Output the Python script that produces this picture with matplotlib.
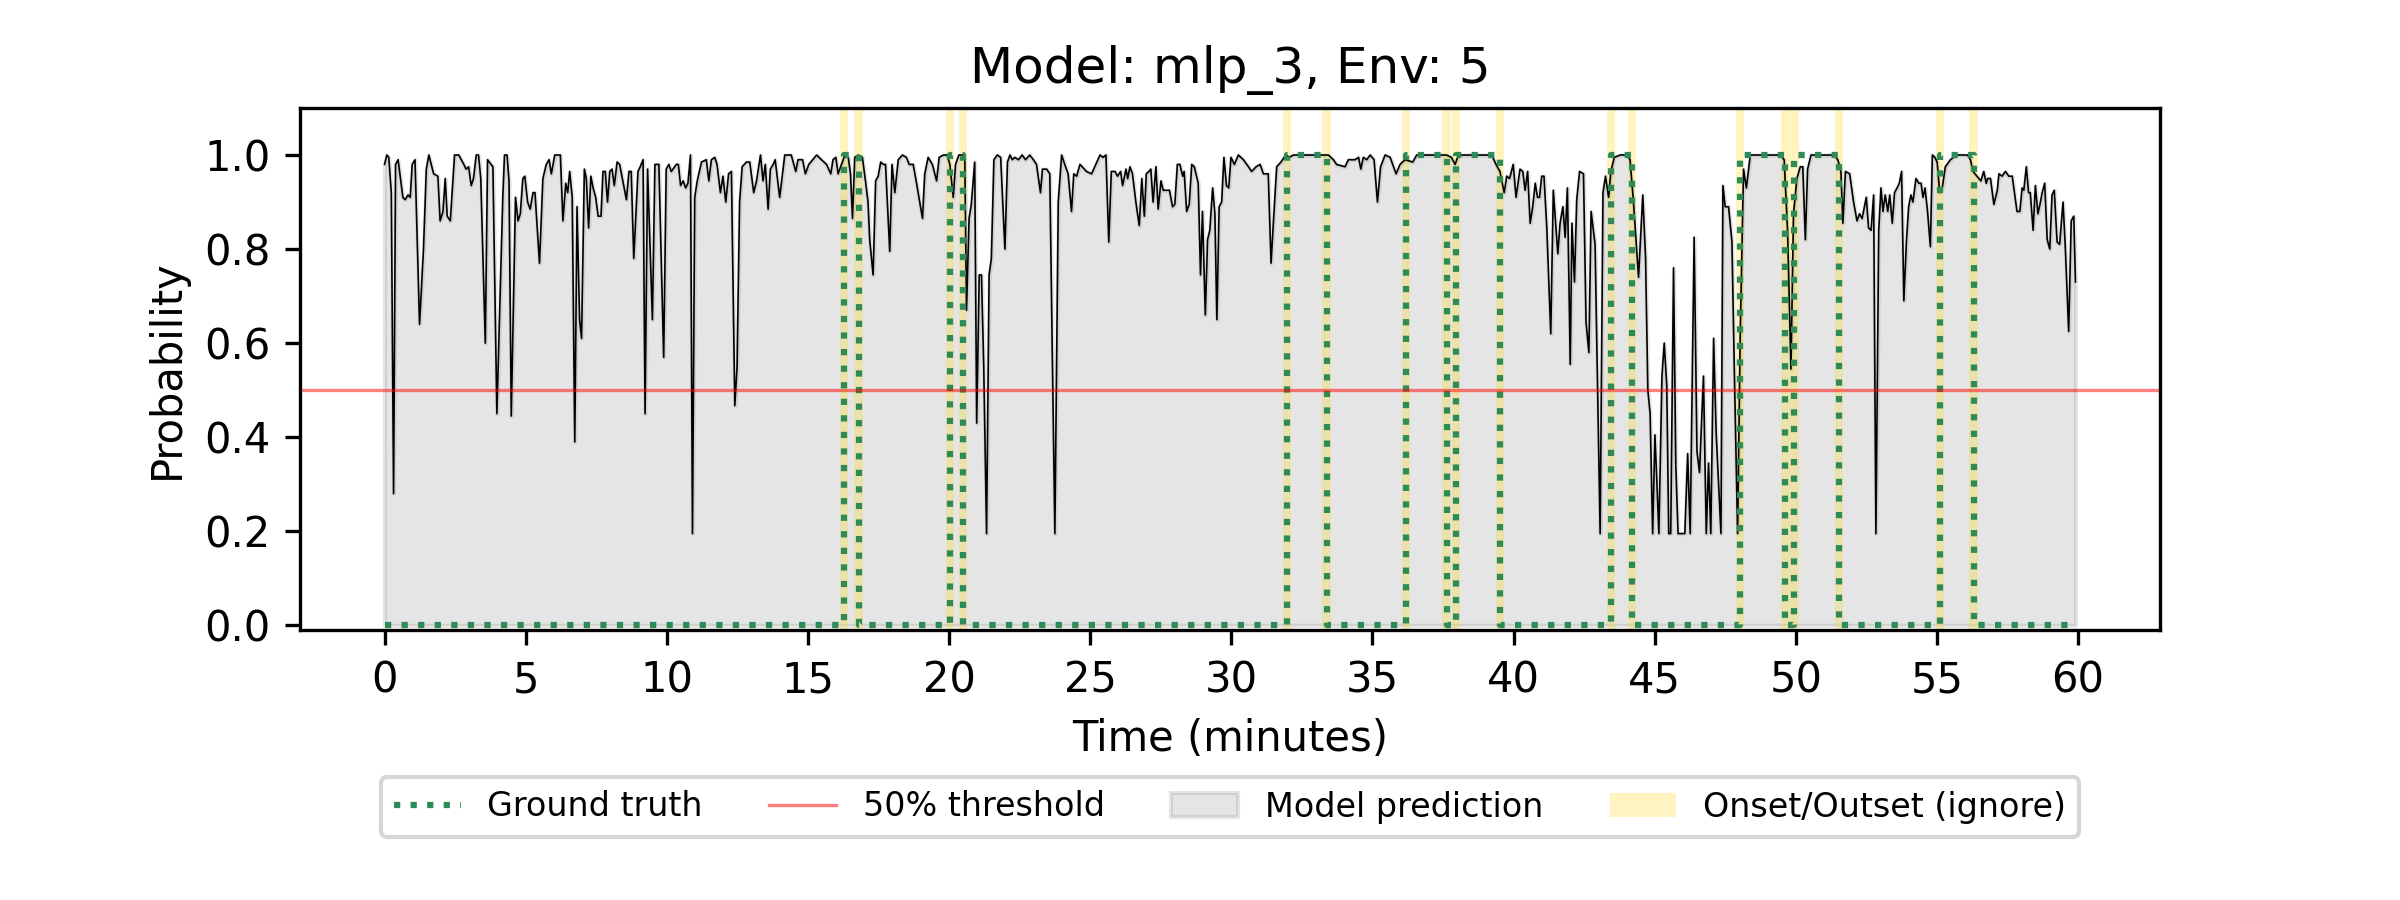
import matplotlib.pyplot as plt
import numpy as np

# model output: (minute, probability)
pred_points = [
    (0.00, 0.98), (0.08, 1.0), (0.15, 0.995), (0.24, 0.92), (0.32, 0.28), (0.39, 0.98),
    (0.48, 0.99), (0.65, 0.91), (0.73, 0.905), (0.83, 0.915), (0.91, 0.91), (0.98, 0.98),
    (1.08, 0.99), (1.24, 0.64), (1.38, 0.80), (1.48, 0.97), (1.57, 1.0), (1.74, 0.96),
    (1.89, 0.955), (1.97, 0.86), (2.07, 0.88), (2.15, 0.95), (2.22, 0.87), (2.33, 0.86),
    (2.48, 1.0), (2.63, 1.0), (2.81, 0.98), (2.89, 0.97), (2.98, 0.975), (3.07, 0.935),
    (3.15, 0.95), (3.25, 1.0), (3.33, 1.0), (3.41, 0.95), (3.57, 0.60), (3.65, 0.99),
    (3.84, 0.975), (3.98, 0.45), (4.10, 0.71), (4.19, 0.91), (4.25, 1.0), (4.34, 1.0),
    (4.41, 0.945), (4.49, 0.445), (4.64, 0.91), (4.73, 0.86), (4.81, 0.875), (4.90, 0.95),
    (4.97, 0.955), (5.07, 0.90), (5.16, 0.885), (5.26, 0.92), (5.33, 0.92), (5.49, 0.77),
    (5.61, 0.95), (5.73, 0.98), (5.83, 0.99), (5.91, 0.96), (6.03, 1.0), (6.23, 1.0),
    (6.32, 0.86), (6.42, 0.94), (6.49, 0.92), (6.56, 0.965), (6.65, 0.91), (6.74, 0.39),
    (6.82, 0.89), (6.91, 0.65), (6.98, 0.61), (7.08, 0.97), (7.15, 0.95), (7.23, 0.845),
    (7.31, 0.955), (7.39, 0.93), (7.48, 0.91), (7.57, 0.87), (7.67, 0.87), (7.74, 0.965),
    (7.82, 0.965), (7.90, 0.90), (7.98, 0.965), (8.06, 0.97), (8.14, 0.935), (8.24, 0.985),
    (8.33, 0.98), (8.57, 0.905), (8.66, 0.965), (8.74, 0.965), (8.83, 0.78), (8.98, 0.965),
    (9.06, 0.975), (9.16, 0.99), (9.23, 0.45), (9.32, 0.97), (9.49, 0.65), (9.58, 0.98),
    (9.72, 0.98), (9.89, 0.57), (9.98, 0.97), (10.07, 0.98), (10.16, 0.965), (10.34, 0.98),
    (10.41, 0.98), (10.49, 0.935), (10.58, 0.945), (10.67, 0.93), (10.75, 0.94), (10.84, 1.0),
    (10.91, 0.195), (10.99, 0.91), (11.08, 0.945), (11.23, 0.985), (11.40, 0.99), (11.49, 0.945),
    (11.58, 0.99), (11.70, 0.995), (11.78, 0.98), (11.90, 0.92), (11.99, 0.955), (12.09, 0.90),
    (12.19, 0.96), (12.29, 0.965), (12.41, 0.467), (12.49, 0.55), (12.58, 0.90), (12.67, 0.975),
    (12.82, 0.985), (12.94, 0.985), (13.08, 0.92), (13.18, 0.945), (13.32, 1.0), (13.41, 0.945),
    (13.49, 0.98), (13.59, 0.885), (13.67, 0.97), (13.77, 0.98), (13.84, 0.99), (14.00, 0.91),
    (14.18, 1.0), (14.41, 1.0), (14.57, 0.965), (14.65, 0.99), (14.81, 0.99), (14.91, 0.96),
    (15.03, 0.98), (15.31, 1.0), (15.48, 0.99), (15.66, 0.98), (15.81, 0.96), (15.89, 0.99),
    (15.99, 0.995), (16.07, 0.96), (16.19, 0.98), (16.31, 1.0), (16.43, 0.995), (16.51, 0.96),
    (16.58, 0.865), (16.66, 0.995), (16.78, 1.0), (16.93, 0.995), (17.04, 0.945), (17.13, 0.90),
    (17.19, 0.82), (17.31, 0.745), (17.40, 0.945), (17.49, 0.955), (17.58, 0.985), (17.67, 0.98),
    (17.75, 0.98), (17.90, 0.795), (17.98, 0.98), (18.08, 0.92), (18.20, 0.99), (18.35, 1.0),
    (18.49, 0.995), (18.59, 0.98), (18.73, 0.98), (18.85, 0.94), (19.06, 0.865), (19.14, 0.96),
    (19.26, 0.995), (19.41, 0.98), (19.56, 0.945), (19.65, 0.995), (19.80, 1.0), (19.93, 1.0),
    (20.03, 0.98), (20.15, 0.91), (20.23, 0.98), (20.35, 1.0), (20.47, 1.0), (20.56, 0.99),
    (20.62, 0.67), (20.71, 0.865), (20.79, 0.895), (20.91, 0.985), (20.98, 0.43), (21.07, 0.745),
    (21.15, 0.745), (21.23, 0.55), (21.33, 0.195), (21.42, 0.745), (21.50, 0.78), (21.59, 0.99),
    (21.71, 1.0), (21.83, 0.995), (21.98, 0.80), (22.07, 0.985), (22.16, 1.0), (22.24, 0.99),
    (22.33, 0.995), (22.46, 0.99), (22.59, 1.0), (22.71, 0.99), (22.86, 1.0), (22.99, 0.99),
    (23.10, 0.98), (23.24, 0.92), (23.31, 0.97), (23.46, 0.97), (23.57, 0.96), (23.75, 0.195),
    (23.87, 0.90), (23.99, 1.0), (24.10, 0.98), (24.22, 0.96), (24.34, 0.88), (24.42, 0.96),
    (24.52, 0.955), (24.64, 0.98), (24.87, 0.965), (25.05, 0.96), (25.35, 1.0), (25.46, 0.995),
    (25.56, 1.0), (25.66, 0.815), (25.75, 0.965), (25.88, 0.965), (25.97, 0.955), (26.08, 0.965),
    (26.15, 0.935), (26.27, 0.97), (26.33, 0.95), (26.41, 0.975), (26.50, 0.96), (26.62, 0.90),
    (26.74, 0.85), (26.83, 0.95), (26.92, 0.87), (26.99, 0.96), (27.08, 0.965), (27.15, 0.97),
    (27.23, 0.90), (27.33, 0.975), (27.41, 0.885), (27.51, 0.945), (27.59, 0.925), (27.71, 0.925),
    (27.81, 0.925), (27.92, 0.89), (28.00, 0.895), (28.09, 0.98), (28.18, 0.98), (28.28, 0.955),
    (28.33, 0.965), (28.42, 0.88), (28.51, 0.895), (28.60, 0.98), (28.69, 0.975), (28.83, 0.94),
    (28.91, 0.745), (28.98, 0.88), (29.08, 0.66), (29.16, 0.82), (29.24, 0.84), (29.34, 0.93),
    (29.42, 0.875), (29.49, 0.65), (29.57, 0.89), (29.66, 0.90), (29.74, 0.995), (29.83, 0.935),
    (29.91, 0.93), (29.99, 0.995), (30.11, 0.98), (30.25, 1.0), (30.43, 0.99), (30.61, 0.975),
    (30.72, 0.965), (30.88, 0.975), (31.02, 0.98), (31.14, 0.96), (31.31, 0.96), (31.41, 0.77),
    (31.51, 0.875), (31.61, 0.975), (31.76, 0.985), (31.93, 1.0), (32.06, 0.995), (32.20, 1.0),
    (33.44, 1.0), (33.62, 0.99), (33.73, 0.98), (34.03, 0.975), (34.15, 0.99), (34.39, 0.99),
    (34.51, 0.995), (34.59, 0.97), (34.68, 0.995), (34.80, 0.99), (34.92, 1.0), (35.06, 0.99),
    (35.18, 0.90), (35.29, 0.975), (35.45, 1.0), (35.63, 0.995), (35.84, 0.96), (35.98, 0.98),
    (36.16, 0.99), (36.43, 0.985), (36.57, 1.0), (37.63, 1.0), (37.80, 0.995), (37.93, 0.98),
    (38.05, 1.0), (39.23, 1.0), (39.38, 0.98), (39.52, 0.965), (39.67, 0.92), (39.76, 0.955),
    (39.86, 0.95), (39.99, 0.98), (40.09, 0.91), (40.23, 0.97), (40.33, 0.965), (40.41, 0.925),
    (40.50, 0.965), (40.59, 0.855), (40.68, 0.89), (40.77, 0.94), (40.85, 0.91), (40.92, 0.91),
    (41.00, 0.955), (41.08, 0.955), (41.18, 0.845), (41.32, 0.62), (41.41, 0.925), (41.57, 0.79),
    (41.65, 0.855), (41.75, 0.89), (41.83, 0.825), (41.91, 0.93), (42.01, 0.555), (42.07, 0.855),
    (42.16, 0.73), (42.24, 0.905), (42.34, 0.965), (42.48, 0.96), (42.57, 0.645), (42.67, 0.58),
    (42.75, 0.88), (42.89, 0.81), (42.98, 0.50), (43.07, 0.195), (43.17, 0.92), (43.26, 0.955),
    (43.37, 0.91), (43.45, 0.965), (43.57, 0.995), (43.78, 1.0), (44.02, 1.0), (44.13, 0.99),
    (44.25, 0.90), (44.43, 0.74), (44.58, 0.915), (44.68, 0.78), (44.76, 0.50), (44.84, 0.45),
    (44.93, 0.195), (45.01, 0.405), (45.08, 0.305), (45.15, 0.195), (45.26, 0.53), (45.34, 0.60),
    (45.43, 0.51), (45.50, 0.195), (45.57, 0.195), (45.67, 0.76), (45.75, 0.34), (45.83, 0.195),
    (46.07, 0.195), (46.17, 0.365), (46.26, 0.195), (46.40, 0.825), (46.50, 0.37), (46.59, 0.325),
    (46.73, 0.53), (46.83, 0.195), (46.91, 0.345), (46.99, 0.195), (47.09, 0.61), (47.18, 0.41),
    (47.35, 0.195), (47.42, 0.935), (47.50, 0.89), (47.62, 0.89), (47.74, 0.815), (47.82, 0.555),
    (47.94, 0.195), (48.03, 0.61), (48.15, 0.97), (48.25, 0.93), (48.39, 1.0), (49.45, 1.0),
    (49.59, 0.99), (49.71, 0.84), (49.83, 0.545), (49.92, 0.875), (50.04, 0.95), (50.16, 0.975),
    (50.25, 0.975), (50.34, 0.82), (50.42, 0.97), (50.54, 1.0), (51.36, 1.0), (51.49, 0.99),
    (51.60, 0.965), (51.67, 0.855), (51.76, 0.965), (51.91, 0.96), (52.05, 0.90), (52.17, 0.86),
    (52.26, 0.875), (52.35, 0.865), (52.50, 0.91), (52.58, 0.845), (52.67, 0.84), (52.76, 0.915),
    (52.84, 0.195), (52.94, 0.84), (53.02, 0.93), (53.09, 0.88), (53.17, 0.915), (53.26, 0.88),
    (53.33, 0.915), (53.42, 0.855), (53.50, 0.92), (53.59, 0.93), (53.67, 0.94), (53.75, 0.965),
    (53.83, 0.69), (53.92, 0.815), (54.00, 0.89), (54.08, 0.915), (54.15, 0.90), (54.26, 0.95),
    (54.36, 0.94), (54.44, 0.94), (54.51, 0.91), (54.58, 0.93), (54.67, 0.88), (54.77, 0.805),
    (54.84, 1.0), (54.93, 0.995), (55.01, 0.985), (55.10, 0.92), (55.19, 0.93), (55.30, 0.975),
    (55.48, 0.99), (55.71, 1.0), (56.09, 1.0), (56.19, 0.99), (56.28, 0.965), (56.42, 0.955),
    (56.56, 0.945), (56.66, 0.965), (56.75, 0.94), (56.80, 0.95), (56.90, 0.95), (57.02, 0.895),
    (57.14, 0.925), (57.20, 0.96), (57.31, 0.955), (57.43, 0.965), (57.55, 0.955), (57.67, 0.955),
    (57.84, 0.88), (57.94, 0.88), (58.02, 0.93), (58.08, 0.925), (58.17, 0.975), (58.25, 0.92),
    (58.31, 0.92), (58.41, 0.84), (58.49, 0.935), (58.58, 0.875), (58.67, 0.90), (58.73, 0.92),
    (58.82, 0.94), (58.91, 0.82), (59.00, 0.80), (59.08, 0.915), (59.16, 0.925), (59.26, 0.815),
    (59.35, 0.81), (59.47, 0.90), (59.55, 0.805), (59.67, 0.625), (59.76, 0.86), (59.85, 0.87),
    (59.91, 0.73),
]

# labelled events (start, end) in minutes
events = [
    (16.27, 16.80), (20.03, 20.50), (31.97, 33.38), (36.20, 37.63), (37.97, 39.53),
    (43.45, 44.20), (48.03, 49.63), (49.95, 51.53), (55.12, 56.30),
]

ignore_half = 0.15  # minutes either side of each onset/outset
threshold = 0.5

t, prob = np.array(pred_points).T

# build the 0/1 ground truth trace from the events
gt_t = [t[0]]
gt_y = [0]
for s, e in events:
    gt_t += [s, s, e, e]
    gt_y += [0, 1, 1, 0]
gt_t.append(t[-1])
gt_y.append(0)

fig, ax = plt.subplots(figsize=(8, 3), dpi=300)
fig.subplots_adjust(bottom=0.3)

pred_fill = ax.fill_between(t, prob, color="gray", alpha=0.2, label="Model prediction")
ax.plot(t, prob, color="black", lw=0.4)

for s, e in events:
    for b in (s, e):
        span = ax.axvspan(b - ignore_half, b + ignore_half, color="gold", alpha=0.25, lw=0,
                          label="Onset/Outset (ignore)")

gt_line, = ax.plot(gt_t, gt_y, color="seagreen", ls=":", lw=1.5, label="Ground truth")
thr_line = ax.axhline(threshold, color="red", alpha=0.5, lw=0.8, label="50% threshold")

ax.set_ylim(-0.01, 1.1)
ax.set_xticks(np.arange(0, 61, 5))
ax.set_xlabel("Time (minutes)")
ax.set_ylabel("Probability")
ax.set_title("Model: mlp_3, Env: 5")

ax.legend(handles=[gt_line, thr_line, pred_fill, span], loc="upper center",
          bbox_to_anchor=(0.5, -0.25), ncol=4, fontsize=8)

fig.savefig("out.png", dpi=300)
